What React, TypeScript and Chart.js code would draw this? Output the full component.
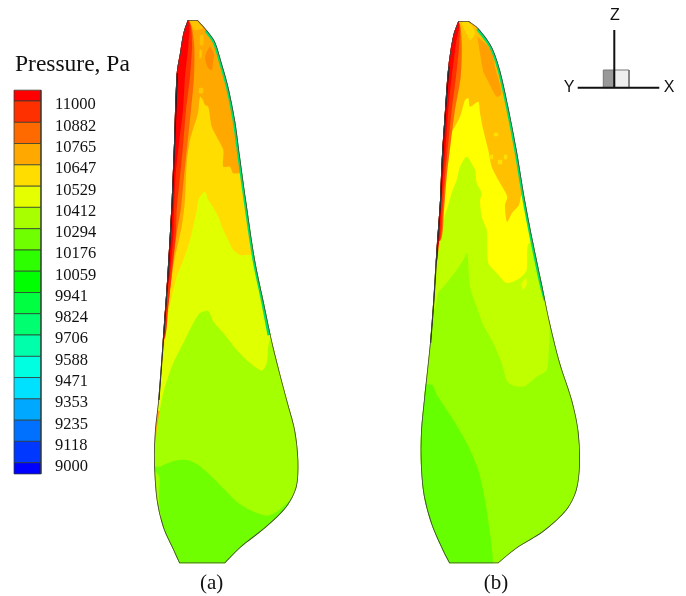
import React, { useEffect, useRef } from "react";
import { Chart, registerables } from "chart.js";

Chart.register(...registerables);

type P = [number, number];

const pressureLevels = [11000, 10882, 10765, 10647, 10529, 10412, 10294, 10176, 10059, 9941, 9824, 9706, 9588, 9471, 9353, 9235, 9118, 9000];
const legendColors = ["#ff0000", "#ff3000", "#ff6a00", "#ffa800", "#ffdd00", "#e6ff00", "#a8ff00", "#70ff00", "#2eff00", "#00ff00", "#00ff40", "#00ff70", "#00ffaa", "#00ffe0", "#00e0ff", "#00a8ff", "#0070ff", "#0038ff", "#0000ff"];

const outlineA: P[] = [[187.7,20],[187.7,20],[197.7,20],[197.7,20],[206.7,30],[215,41.7],[221.7,63],[228.3,86.7],[235,120],[240,156.7],[246,200],[255,260],[263.3,300],[273.3,346.7],[287,400],[295,430],[298.3,460],[296.7,486.7],[286.7,506.7],[266.7,526.7],[240,548],[225,563.3],[225,563.3],[179.3,563.3],[179.3,563.3],[173.3,550],[163.3,528],[156.7,500],[154,460],[155,430],[158.3,400],[163.3,333],[167.3,276.7],[171.7,200],[174,143],[176.7,73],[180,53],[183.3,33.3],[187.7,20]];
const edgeA: P[] = [[206.7,30],[215,41.7],[221.7,63],[228.3,86.7],[235,120],[240,156.7],[246,200],[255,260],[263.3,300],[270,335]];
const leftA: P[] = [[176.7,73],[174,143],[171.7,200],[167.3,276.7],[163.3,333],[158.3,400]];
const a70: P[] = [[150,466],[160,466.7],[163.3,465],[175,460.7],[186.7,460],[198.3,465],[210,475],[223.3,488.3],[236.7,501.7],[250,510],[266.7,515.7],[276.7,511.7],[288.3,501.7],[300,490],[300,575],[170,575],[163,528],[160,510],[159,496.7],[159.3,476.7]];
const a42: P[] = [[150,443],[155,443],[156.7,430],[161.7,400],[165,386.7],[173.3,363],[183.3,343],[193.3,323],[200,313],[208.3,311],[213.3,321.7],[223.3,333],[236.7,350],[250,363],[261.7,370.7],[266.7,363],[268.3,346.7],[271.7,336.7],[300,336],[300,590],[150,590]];
const a53: P[] = [[150,410],[158.3,400],[160,386.7],[165,340],[168.3,313],[173.3,290],[176.7,276.7],[183.3,260],[190,240],[196.7,210],[198.3,200],[200,196.7],[205,191.7],[208.3,200],[211.7,205],[218.3,216.7],[223.3,230],[228.3,240],[233.3,250],[240,255],[246.7,255],[260,256],[300,336],[300,420]];
const a65: P[] = [[150,400],[159.3,396.7],[161.7,366.7],[166.7,313],[171.7,276.7],[175,256.7],[181.7,226.7],[185,200],[186.7,163],[190,140],[198,113],[200,96.7],[203,100],[205,105],[208.3,106.7],[211.7,126.7],[216.7,136.7],[223.3,150],[223.3,166.7],[230,166.7],[233.3,173.3],[241.7,173],[260,173],[265,260],[300,340],[300,400]];
const a76: P[] = [[150,15],[188,20],[194,43],[194,76.7],[191,110],[187.5,143],[184,176.7],[180.7,210],[176.7,233],[171.7,276.7],[166.7,316.7],[161,350],[150,350]];
const a88: P[] = [[150,15],[188,20],[192,43],[190,76.7],[186,110],[183.3,143],[180,176.7],[176.7,210],[176,233],[172,270],[168,310],[164,340],[150,340]];
const a100: P[] = [[150,15],[187.7,20],[188.5,43],[185,76.7],[183,110],[179,143],[175.5,176.7],[174,210],[173.5,233],[170,273],[166,300],[163,325],[150,325]];
const aPatch: P[] = [[206.7,51.7],[210,46.7],[214.3,55],[213.3,60],[211.7,70],[208.3,68.3],[205,58.3]];
const aTip: P[] = [[189.3,20.7],[195,30],[205,26.7],[197.7,18]];
const aSpot1: P[] = [[200,35],[203.3,35],[203.3,45],[200,45]];
const aSpot2: P[] = [[199.5,50],[201.5,50],[201.5,58],[199.5,58]];
const aSpot3: P[] = [[199,88],[203,88],[203,93],[199,93]];

const outlineB: P[] = [[458.3,21],[458.3,21],[469,21],[469,21],[478.3,28.3],[491.7,46.7],[500,70],[508.3,106.7],[516.7,150],[525,200],[533.3,243],[541.7,283],[550,323],[560,363],[572,400],[578.3,430],[580,463],[576.7,490],[566.7,510],[543.3,531.7],[516.7,548.3],[498.3,563.3],[498.3,563.3],[449.3,563.3],[449.3,563.3],[443.3,551.7],[431.7,525],[424,496.7],[421,466.7],[421,433],[424,400],[430,343],[433.3,300],[436,256.7],[440,200],[441.7,160],[445,110],[448.3,66.7],[453.3,35],[458.3,21]];
const edgeB: P[] = [[478.3,28.3],[491.7,46.7],[500,70],[508.3,106.7],[516.7,150],[525,200],[533.3,243],[541.7,283],[546,300]];
const leftB: P[] = [[448.3,66.7],[445,110],[441.7,160],[440,200],[436,256.7],[433.3,300],[430,343]];
const b70: P[] = [[415,385],[432,385],[437,395],[453.3,420],[466.7,443],[478.3,470],[485,500],[490,533],[493.3,563.3],[493,575],[410,575]];
const b42: P[] = [[400,310],[433.3,310],[438.3,293],[446.7,283],[456.7,270],[463.3,260],[467.3,253],[470,286.7],[476.7,306.7],[483.3,325],[493.3,343],[501.7,363],[508.3,383],[523.3,386.7],[536.7,376.7],[546.7,370],[549.3,340],[551.7,323],[600,320],[600,590],[400,590]];
const b53: P[] = [[420,395],[426.7,386.7],[430,343],[433,300],[436.7,266.7],[438.3,250],[441.7,228],[445,215],[448.3,205],[452,192],[456.7,180],[460,166.7],[466.7,156.7],[475,170],[476.7,183],[481.7,193],[480,200],[481.7,216.7],[486.7,230],[488.3,263],[496.7,273],[506.7,283],[520,278],[526.7,270],[529.3,243],[560,250],[600,400]];
const b65: P[] = [[420,300],[436,240],[440,233],[443.3,200],[442.7,176.7],[446.7,143],[460,116.7],[465,100],[468.3,98],[470,106.7],[478.3,101.7],[480,113],[483.3,130],[488.3,150],[491.7,166.7],[498.3,180],[507.3,196.7],[505,205],[507,222],[512,213],[519,205],[522,195],[535,200],[560,300],[420,300]];
const b76: P[] = [[430,15],[458,21],[461.7,43],[460.7,76.7],[455,110],[450.7,143],[446.7,176.7],[444,210],[441,240],[430,240]];
const b88: P[] = [[430,15],[458,21],[459.3,43],[456,76.7],[451.7,110],[448.3,143],[445,176.7],[442.7,210],[440,240],[430,240]];
const b100: P[] = [[430,15],[458.3,21],[456,43],[451.7,76.7],[448.3,110],[446,143],[443.3,176.7],[441,210],[440,233],[438.3,250],[436.7,262],[430,262]];
const bPatch: P[] = [[477.3,36.7],[491.7,50],[495,66.7],[501.7,93.3],[496.7,96.7],[488.3,81.7],[483.3,71.7],[480,53.3]];
const bTip: P[] = [[461.7,23],[470,40],[475,33],[466.7,19]];
const bSpot: P[] = [[521,284],[526,278],[527,284],[523,290]];
const bSpot2: P[] = [[490,155],[493,155],[493,159],[490,159]];
const bSpot3: P[] = [[498,160],[502,160],[502,164],[498,164]];
const bSpot4: P[] = [[504,155],[507,155],[507,159],[504,159]];
const bSpot5: P[] = [[494,133],[498,133],[498,136],[494,136]];

const triadAxes: P[] = [[577.7,87.7],[659.3,87.7]];
const triadUp: P[] = [[614.3,30],[614.3,87.7]];
const cubeLeft: P[] = [[603.3,70],[614.3,70],[614.3,87.7],[603.3,87.7]];
const cubeRight: P[] = [[614.3,70],[629,70],[629,87.7],[614.3,87.7]];

const legendTitle = "Pressure, Pa";
const captions: [string, number][] = [["(a)", 211.7], ["(b)", 496]];
const triadLabels: [string, number, number][] = [["Y", 569, 88], ["X", 669, 88], ["Z", 615, 16]];

const poly = (pts: P[], color: string, tension = 0.25) => ({
  data: [...pts, pts[0]].map(([x, y]) => ({ x, y })),
  backgroundColor: color,
  borderWidth: 0,
  borderColor: color,
  fill: "shape",
  showLine: true,
  pointRadius: 0,
  tension,
  xAxisID: "x",
  yAxisID: "y",
});

const line = (pts: P[], color: string, width: number, tension = 0.3) => ({
  ...poly(pts, color, tension),
  data: pts.map(([x, y]) => ({ x, y })),
  fill: false,
  borderWidth: width,
});

const bandEdges = [pressureLevels[0] + 60, ...pressureLevels.slice(0, 17), pressureLevels[17], pressureLevels[17] - 62];
const legendBands = legendColors.map((color, i) => ({
  ...poly(
    [[14, bandEdges[i]], [41, bandEdges[i]], [41, bandEdges[i + 1]], [14, bandEdges[i + 1]]],
    color,
    0
  ),
  borderWidth: 1,
  borderColor: "rgba(50,60,50,0.75)",
  yAxisID: "p",
}));

const clipA = { ...line(outlineA, "#444444", 1.6), clipShape: true };
const clipB = { ...line(outlineB, "#444444", 1.6), clipShape: true };

// painted first to last
const layers = [
  poly(outlineA, "#ffa800", 0.3),
  poly(a65, "#ffdd00"),
  poly(a53, "#e0ff00"),
  poly(a42, "#a4ff00"),
  poly(a70, "#70ff00"),
  poly(aPatch, "#ff8c00"),
  poly(aTip, "#ffc400"),
  poly(aSpot1, "#ffc000"),
  poly(aSpot2, "#ffc800"),
  poly(aSpot3, "#ffc800"),
  poly(a76, "#ff6a00"),
  poly(a88, "#ff3000"),
  poly(a100, "#ff0000"),
  line(edgeA, "#00e070", 5),
  line(leftA, "#111111", 2.4),
  clipA,

  poly(outlineB, "#ffc000", 0.3),
  poly(b65, "#ffff00"),
  poly(b53, "#c0ff00"),
  poly(b42, "#98ff00"),
  poly(b70, "#66ff00"),
  poly(bPatch, "#ffa000"),
  poly(bTip, "#ffd800"),
  poly(bSpot, "#e6ff00"),
  poly(bSpot2, "#ffe000"),
  poly(bSpot3, "#ffe000"),
  poly(bSpot4, "#ffe000"),
  poly(bSpot5, "#ffe000"),
  poly(b76, "#ff6a00"),
  poly(b88, "#ff3000"),
  poly(b100, "#ff0000"),
  line(edgeB, "#00e070", 5),
  line(leftB, "#111111", 2.4),
  clipB,

  ...legendBands,

  poly(cubeLeft, "#999999", 0),
  poly(cubeRight, "#eeeeee", 0),
  line([...cubeLeft, cubeLeft[0]], "#777777", 1, 0),
  line([...cubeRight, cubeRight[0]], "#777777", 1, 0),
  line(triadAxes, "#111111", 2, 0),
  line(triadUp, "#111111", 2, 0),
];

const clipPlugin = {
  id: "shapeClip",
  beforeDatasetsDraw(chart: any) {
    const ctx = chart.ctx;
    ctx.save();
    ctx.beginPath();
    chart.data.datasets.forEach((ds: any, i: number) => {
      if (!ds.clipShape) return;
      const el = chart.getDatasetMeta(i).dataset;
      el.updateControlPoints(chart.chartArea, "x");
      el.path(ctx);
      ctx.closePath();
    });
    ctx.rect(0, 0, 135, 596);
    ctx.rect(550, 0, 136, 110);
    ctx.clip();
  },
  afterDatasetsDraw(chart: any) {
    chart.ctx.restore();
  },
};

const textPlugin = {
  id: "texts",
  afterDraw(chart: any) {
    const { ctx, scales } = chart;
    ctx.save();
    ctx.fillStyle = "#111";
    ctx.textBaseline = "middle";
    ctx.textAlign = "left";
    ctx.font = '23.5px "Liberation Serif"';
    ctx.fillText(legendTitle, 15, 65);
    ctx.font = '16.5px "Liberation Serif"';
    pressureLevels.forEach((v) => ctx.fillText(String(v), 55, scales.p.getPixelForValue(v) + 4));
    ctx.textAlign = "center";
    ctx.font = '21px "Liberation Serif"';
    captions.forEach(([t, cx]) => ctx.fillText(t, cx, 583));
    ctx.font = '16px "Liberation Sans"';
    triadLabels.forEach(([t, cx, cy]) => ctx.fillText(t, cx, cy));
    ctx.restore();
  },
};

export default function App() {
  const ref = useRef<HTMLCanvasElement>(null);
  useEffect(() => {
    const chart = new Chart(ref.current as HTMLCanvasElement, {
      type: "scatter",
      data: { datasets: [...layers].reverse() as any },
      options: {
        animation: false,
        responsive: false,
        layout: { padding: 0 },
        plugins: { legend: { display: false }, tooltip: { enabled: false }, title: { display: false } },
        scales: {
          x: { type: "linear", min: 0, max: 686, display: false },
          y: { type: "linear", min: 0, max: 596, reverse: true, display: false },
          p: { type: "linear", min: 8263, max: 11558.5, display: false },
        },
      },
      plugins: [clipPlugin, textPlugin],
    });
    return () => chart.destroy();
  }, []);
  return (
    <canvas
      ref={ref}
      width={686}
      height={596}
      style={{ position: "absolute", left: 0, top: 0, width: 686, height: 596, display: "block", filter: "blur(0.5px)" }}
    />
  );
}
